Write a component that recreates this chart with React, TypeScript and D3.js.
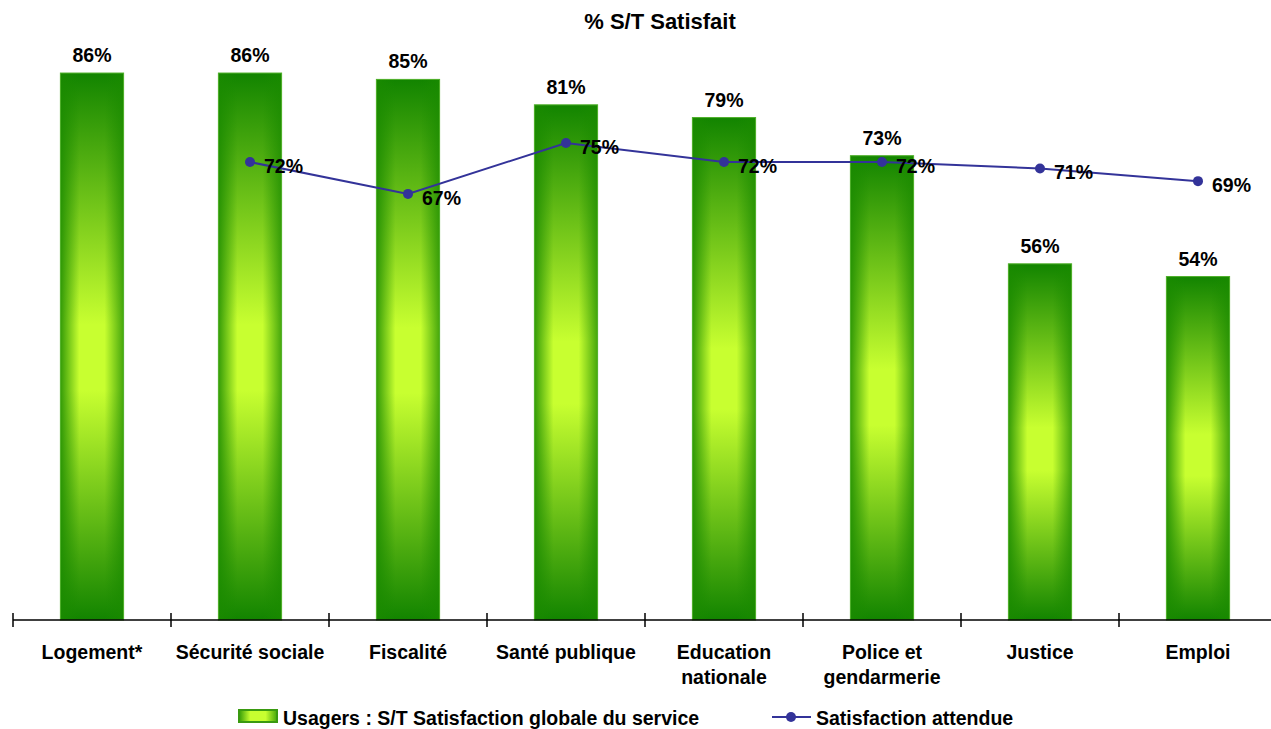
import React from 'react'
import * as d3 from 'd3'

const categories = [
  ['Logement*'],
  ['Sécurité sociale'],
  ['Fiscalité'],
  ['Santé publique'],
  ['Education', 'nationale'],
  ['Police et', 'gendarmerie'],
  ['Justice'],
  ['Emploi'],
]
const usagers = [0.86, 0.86, 0.85, 0.81, 0.79, 0.73, 0.56, 0.54]
const attendue: (number | null)[] = [null, 0.72, 0.67, 0.75, 0.72, 0.72, 0.71, 0.69]

const title = '% S/T Satisfait'
const legendBar = 'Usagers : S/T Satisfaction globale du service'
const legendLine = 'Satisfaction attendue'

const W = 1271, H = 729
const font = '"Liberation Sans", Arial, sans-serif'
const pct = d3.format('.0%')

export default function App() {
  const keys = categories.map(c => c.join(' '))
  const x = d3.scaleBand().domain(keys).range([13, 13 + 8 * 158]).paddingInner(0.6).paddingOuter(0.3)
  const y = d3.scaleLinear().domain([0, 1]).range([620, -16])
  const step = x.step()
  const x0 = x.range()[0]
  const cx = (i: number) => (x(keys[i]) as number) + x.bandwidth() / 2

  const pts = attendue.map((v, i) => ({ v, i })).filter(d => d.v != null) as { v: number, i: number }[]
  const line = d3.line<{ v: number, i: number }>().x(d => cx(d.i)).y(d => y(d.v))

  return (
    <div>
      <style>{'body{margin:0}'}</style>
      <svg width={W} height={H} style={{ display: 'block', fontFamily: font }}>
        <defs>
          <linearGradient id="gv" x1="0" y1="0" x2="0" y2="1">
            <stop offset="0" stopColor="#128400" />
            <stop offset="0.46" stopColor="#c8ff30" />
            <stop offset="0.58" stopColor="#c8ff30" />
            <stop offset="1" stopColor="#128400" />
          </linearGradient>
          <linearGradient id="gh" x1="0" y1="0" x2="1" y2="0">
            <stop offset="0" stopColor="#1a8a00" stopOpacity={0.85} />
            <stop offset="0.3" stopColor="#1a8a00" stopOpacity={0} />
            <stop offset="0.7" stopColor="#1a8a00" stopOpacity={0} />
            <stop offset="1" stopColor="#1a8a00" stopOpacity={0.75} />
          </linearGradient>
        </defs>

        <text x={660} y={29} textAnchor="middle" fontSize={22} fontWeight="bold">{title}</text>

        {usagers.map((v, i) => {
          const bx = x(keys[i]) as number
          const by = y(v)
          const bh = y(0) - by
          return (
            <g key={i}>
              <rect x={bx} y={by} width={x.bandwidth()} height={bh} fill="url(#gv)" />
              <rect x={bx} y={by} width={x.bandwidth()} height={bh} fill="url(#gh)" stroke="#4fb02a" strokeWidth={1} />
              <text x={cx(i)} y={by - 11} textAnchor="middle" fontSize={19.5} fontWeight="bold">{pct(v)}</text>
            </g>
          )
        })}

        <line x1={x0} x2={W} y1={y(0)} y2={y(0)} stroke="#000" strokeWidth={1.5} />
        {d3.range(keys.length + 1).map(k => (
          <line key={k} x1={x0 + k * step} x2={x0 + k * step} y1={613} y2={627} stroke="#000" strokeWidth={1.5} />
        ))}

        {categories.map((c, i) => c.map((t, j) => (
          <text key={i + '-' + j} x={cx(i)} y={659 + j * 25} textAnchor="middle" fontSize={19.5} fontWeight="bold">{t}</text>
        )))}

        <path d={line(pts) as string} fill="none" stroke="#333399" strokeWidth={2} />
        {pts.map(d => (
          <g key={d.i}>
            <circle cx={cx(d.i)} cy={y(d.v)} r={5} fill="#333399" />
            <text x={cx(d.i) + 14} y={y(d.v) + 11} fontSize={19.5} fontWeight="bold">{pct(d.v)}</text>
          </g>
        ))}

        <g>
          <rect x={239} y={710} width={38} height={12} fill="#c8ff30" />
          <rect x={239} y={710} width={38} height={12} fill="url(#gh)" />
          <rect x={239} y={710} width={38} height={12} fill="none" stroke="#3a9a10" strokeWidth={2} />
          <text x={283} y={725} fontSize={19.5} fontWeight="bold">{legendBar}</text>
          <line x1={772} x2={811} y1={717} y2={717} stroke="#333399" strokeWidth={2} />
          <circle cx={791} cy={717} r={5} fill="#333399" />
          <text x={816} y={725} fontSize={19.5} fontWeight="bold">{legendLine}</text>
        </g>
      </svg>
    </div>
  )
}
